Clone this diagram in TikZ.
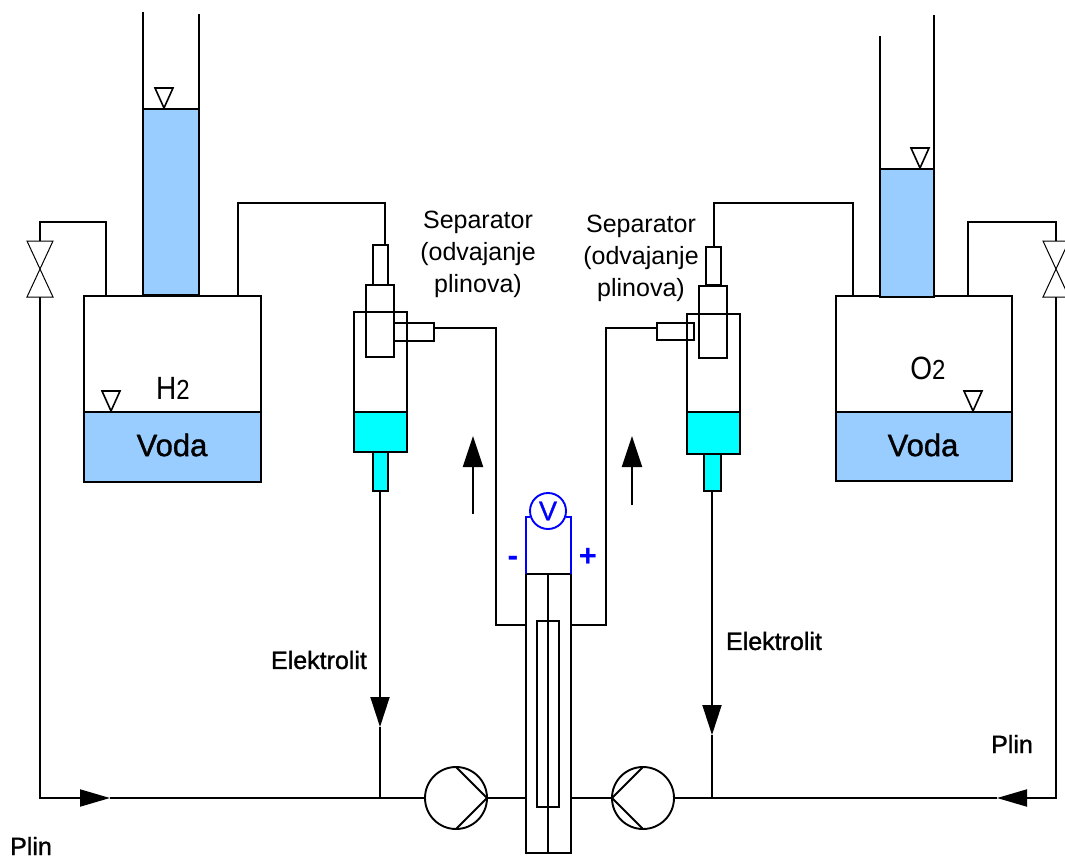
\documentclass[tikz,border=0pt]{standalone}
\usepackage{fontspec}
\setmainfont{Liberation Sans}
\newfontfamily\fbold[FakeBold=1.2]{Liberation Sans}
\newfontfamily\fheavy{Liberation Sans Bold}
\usetikzlibrary{arrows.meta,calc}
\definecolor{water}{HTML}{99CCFF}
\definecolor{elec}{HTML}{00FFFF}
\definecolor{wire}{HTML}{0000FF}
\newcommand{\fs}[1]{\fontsize{#1}{#1}\selectfont}
% \bx{name}{x1}{y1}{x2}{y2}{style}
\newcommand{\bx}[6]{\node[part,#6,minimum width={(#4-#2)*1pt},minimum height={(#5-#3)*1pt}] (#1) at (#2,#3) {};}
% level mark with its tip at (x,y)
\newcommand{\lvl}[2]{\draw[thinline] (#1,#2) -- ++(-9,-20) -- ++(18,0) -- cycle;}
\newcommand{\vlv}[1]{\draw[valveline] (#1.north west) -- (#1.south east) -- (#1.south west) -- (#1.north east) -- cycle;}
\tikzset{
  x=1pt,y=-1pt,
  line/.style={draw=black,line width=1.9pt},
  thinline/.style={draw=black,line width=1.6pt},
  valveline/.style={draw=black,line width=1pt},
  part/.style={draw=black,line width=1.9pt,anchor=north west,inner sep=0pt,outer sep=0pt,rectangle},
  ghost/.style={draw=none},
  bluewire/.style={draw=wire,line width=1.9pt},
  pipe/.style={line,line join=miter},
  pump/.style={circle,draw=black,line width=1.9pt,minimum size=62pt,inner sep=0pt,outer sep=0pt},
  flow/.style={line,-{Triangle[length=30pt,width=19pt]}},
  hflow/.style={line,-{Triangle[length=30pt,width=17pt]}},
  lab/.style={inner sep=0pt,font=\fs{25},align=center},
  blab/.style={inner sep=0pt,font=\fbold\fs{25}},
  voda/.style={inner sep=0pt,font=\fbold\fs{31}},
}
\begin{document}
\begin{tikzpicture}
\useasboundingbox (0,0) rectangle (1065,859);
\fill[white] (0,0) rectangle (1065,859);

% tanks
\bx{tankL}{84}{296}{261}{482}{}
\bx{waterL}{84}{412}{261}{482}{fill=water}
\bx{tankR}{836}{296}{1012}{481}{}
\bx{waterR}{836}{412}{1012}{481}{fill=water}
% tubes
\bx{colL}{143}{109}{199}{295}{fill=water}
\bx{colR}{880}{169}{934}{297}{fill=water}
\coordinate (tubeLa) at (143,12); \coordinate (tubeLb) at (199,14);
\coordinate (tubeRa) at (880,36); \coordinate (tubeRb) at (934,15);
\draw[line] (tubeLa) -- (colL.north west);
\draw[line] (tubeLb) -- (colL.north east);
\draw[line] (tubeRa) -- (colR.north west);
\draw[line] (tubeRb) -- (colR.north east);
\lvl{164}{108}
\lvl{920}{168}
\lvl{111}{411}
\lvl{973}{411}

% separators
\bx{sepL}{354}{312}{407}{452}{}
\bx{cyanL}{354}{412}{407}{452}{fill=elec}
\bx{topL}{373}{245}{388}{285}{}
\bx{midL}{366}{285}{394}{357}{}
\bx{sideL}{394}{323}{434}{341}{}
\bx{botL}{373}{452}{388}{491}{fill=elec}
\bx{sepR}{687}{314}{740}{454}{}
\bx{cyanR}{687}{412}{740}{454}{fill=elec}
\bx{topR}{706}{247}{721}{285}{}
\bx{midR}{699}{286}{727}{358}{}
\bx{sideR}{657}{323}{694}{340}{}
\bx{botR}{704}{454}{721}{491}{fill=elec}

% valves
\bx{valveL}{27}{241}{53}{297}{ghost}
\bx{valveR}{1043}{241}{1069}{297}{ghost}
\vlv{valveL}
\vlv{valveR}

% cell
\bx{cell}{526}{574}{571}{853}{}
\bx{mem}{537}{621}{559}{807}{}
\coordinate (mc) at (548,600);
\draw[line] (mc |- cell.north) -- (mc |- cell.south);

% pumps
\node[pump] (pumpL) at (456,798) {};
\node[pump] (pumpR) at (643,798) {};
\draw[line] (pumpL.north) -- (pumpL.east) -- (pumpL.south);
\draw[line] (pumpR.north) -- (pumpR.west) -- (pumpR.south);

% gas pipes, tank to separator
\coordinate (a1) at (238,203); \coordinate (a2) at (385,203);
\draw[pipe] (a1 |- tankL.north) -- (a1) -- (a2) -- (a2 |- topL.north);
\coordinate (b1) at (853,203); \coordinate (b2) at (714,203);
\draw[pipe] (b1 |- tankR.north) -- (b1) -- (b2) -- (b2 |- topR.north);
% tank to valve
\coordinate (c1) at (106,222); \coordinate (c2) at (valveL.north |- c1);
\draw[pipe] (c1 |- tankL.north) -- (c1) -- (c2) -- (valveL.north);
\coordinate (d1) at (968,222); \coordinate (d2) at (valveR.north |- d1);
\draw[pipe] (d1 |- tankR.north) -- (d1) -- (d2) -- (valveR.north);
% valve to main line
\coordinate (mainL) at (valveL.south |- pumpL.center);
\coordinate (mainR) at (valveR.south |- pumpR.center);
\coordinate (fl) at (110,798); \coordinate (fr) at (997,798);
\draw[hflow] (valveL.south) -- (mainL) -- (fl);
\draw[pipe] (fl) -- (pumpL.west);
\draw[hflow] (valveR.south) -- (mainR) -- (fr);
\draw[pipe] (fr) -- (pumpR.east);
% pumps to cell
\draw[line] (pumpL.east) -- (pumpL.east -| cell.west);
\draw[line] (pumpR.west) -- (pumpR.west -| cell.east);
% separator drains
\coordinate (e1) at (380,727); \coordinate (e2) at (e1 |- pumpL.center);
\draw[flow] (e1 |- botL.south) -- (e1);
\draw[line] (e1) -- (e2);
\coordinate (f1) at (712,735); \coordinate (f2) at (f1 |- pumpR.center);
\draw[flow] (f1 |- botR.south) -- (f1);
\draw[line] (f1) -- (f2);
% cell to separators
\coordinate (g1) at (496,328); \coordinate (g2) at (496,625);
\draw[pipe] (sideL.east |- g1) -- (g1) -- (g2) -- (g2 -| cell.west);
\coordinate (h1) at (606,328); \coordinate (h2) at (606,625);
\draw[pipe] (sideR.west |- h1) -- (h1) -- (h2) -- (h2 -| cell.east);
% rising flow marks
\coordinate (i0) at (473,514); \coordinate (i1) at (473,436);
\draw[flow,-{Triangle[length=31pt,width=20pt]}] (i0) -- (i1);
\coordinate (j0) at (632,505); \coordinate (j1) at (632,436);
\draw[flow,-{Triangle[length=31pt,width=20pt]}] (j0) -- (j1);

% voltmeter
\node[circle,draw=wire,line width=1.9pt,minimum size=36pt,inner sep=0pt,outer sep=0pt,text=wire,font=\fbold\fs{27}] (volt) at (548,511) {V};
\coordinate (k1) at (526,517); \coordinate (k2) at (571,517);
\draw[bluewire] (cell.north west) -- (k1) -- (k1 -| volt.west);
\draw[bluewire] (cell.north east) -- (k2) -- (k2 -| volt.east);
\node[inner sep=0pt,text=wire,font=\fheavy\fs{32}] (minus) at (513,561) {-};
\node[inner sep=0pt,text=wire,font=\fheavy\fs{31}] (plus) at (588,557) {+};

% text
\node[lab] (sl1) at (478,222) {Separator};
\node[lab] (sl2) at (478,254) {(odvajanje};
\node[lab] (sl3) at (478,286) {plinova)};
\node[lab] (sr1) at (641,226) {Separator};
\node[lab] (sr2) at (641,258) {(odvajanje};
\node[lab] (sr3) at (641,290) {plinova)};
\node[inner sep=0pt,font=\fs{28},yscale=1.15] (h2) at (173,388) {H\fs{24}2};
\node[inner sep=0pt,font=\fs{28},yscale=1.15] (o2) at (928,368) {O\fs{24}2};
\node[voda] (v1) at (172,445) {Voda};
\node[voda] (v2) at (923,445) {Voda};
\node[blab] (e1t) at (319,660) {Elektrolit};
\node[blab] (e2t) at (774,641) {Elektrolit};
\node[blab] (p1) at (31,846) {Plin};
\node[blab] (p2) at (1012,744) {Plin};
\end{tikzpicture}
\end{document}
